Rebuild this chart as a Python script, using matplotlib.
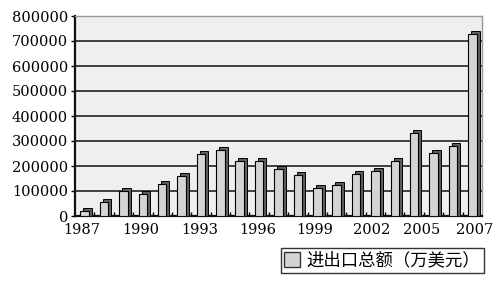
import matplotlib
matplotlib.use("Agg")
import matplotlib.pyplot as plt
import matplotlib.transforms as mtransforms
from matplotlib.patches import Patch
import numpy as np

years = list(range(1987, 2008))
values = [22000, 58000, 101000, 88000, 127000, 161000, 247000, 263000, 220000, 219000,
          187000, 165000, 112000, 125000, 167000, 180000, 221000, 331000, 253000, 279000, 727000]
tick_labels = ["1987", "1990", "1993", "1996", "1999", "2002", "2005", "2007"]
legend_label = "进出口总额（万美元）"

fig = plt.figure(figsize=(5.0, 2.84), dpi=100)
fig.patch.set_facecolor("white")
ax = fig.add_axes([75/500, 1-216/284, (482-75)/500, (216-16)/284])
ax.set_facecolor("#efefef")

x = np.arange(len(years))
w = 0.44
depth_px = 3
ymax = 800000
px_per_unit = (216 - 16) / ymax
depth_data = depth_px / px_per_unit
# 3D depth: back copy shifted up-right, extended down so it meets the floor
off = mtransforms.ScaledTranslation(depth_px/100, depth_px/100, fig.dpi_scale_trans)
ax.bar(x, np.array(values) + depth_data, bottom=-depth_data, width=w, color="#5e5e5e",
       edgecolor="black", linewidth=0.7, transform=ax.transData + off, zorder=3)
ax.bar(x, values, width=w, color="#d4d4d4", edgecolor="black", linewidth=0.8, zorder=4)

ax.set_xlim(-0.5, len(years) - 0.5)
ax.set_ylim(0, ymax)
yt = np.arange(0, ymax + 1, 100000)
ax.set_yticks(yt)
ax.set_yticklabels([str(v) for v in yt], family="DejaVu Serif", fontsize=10.5)
for v in yt[1:-1]:
    ax.axhline(v, color="#111111", linewidth=1.1, zorder=1)

label_pos = [-0.15, 2.9, 5.95, 8.95, 11.85, 14.8, 17.4, 20.1]
ax.set_xticks(label_pos)
ax.set_xticklabels(tick_labels, family="DejaVu Serif", fontsize=10.5)
ax.tick_params(axis="x", length=0, pad=5)
ax.set_xticks(x[:-1] + 0.5, minor=True)
ax.tick_params(axis="x", which="minor", direction="in", length=3, width=1, color="black")
ax.tick_params(axis="y", direction="out", length=3, width=1, pad=2)
ax.get_yticklabels()[0].set_y(-0.004)

for s in ["top", "right"]:
    ax.spines[s].set_color("#999999")
    ax.spines[s].set_linewidth(1)
ax.spines["left"].set_color("#111111")
ax.spines["left"].set_linewidth(1.6)
ax.spines["bottom"].set_color("#111111")
ax.spines["bottom"].set_linewidth(1.6)

handle = Patch(facecolor="#d4d4d4", edgecolor="#333333", linewidth=1)
leg = fig.legend([handle], [legend_label], loc="upper right",
                 bbox_to_anchor=(484/500, 1-248/284), bbox_transform=fig.transFigure,
                 prop={"family": ["Noto Sans CJK SC", "DejaVu Sans"], "size": 12.5},
                 frameon=True, fancybox=False, edgecolor="black", borderaxespad=0,
                 borderpad=0.2, handlelength=0.9, handleheight=0.9, handletextpad=0.4)
leg.get_frame().set_linewidth(1)

fig.savefig("out.png", dpi=100)
